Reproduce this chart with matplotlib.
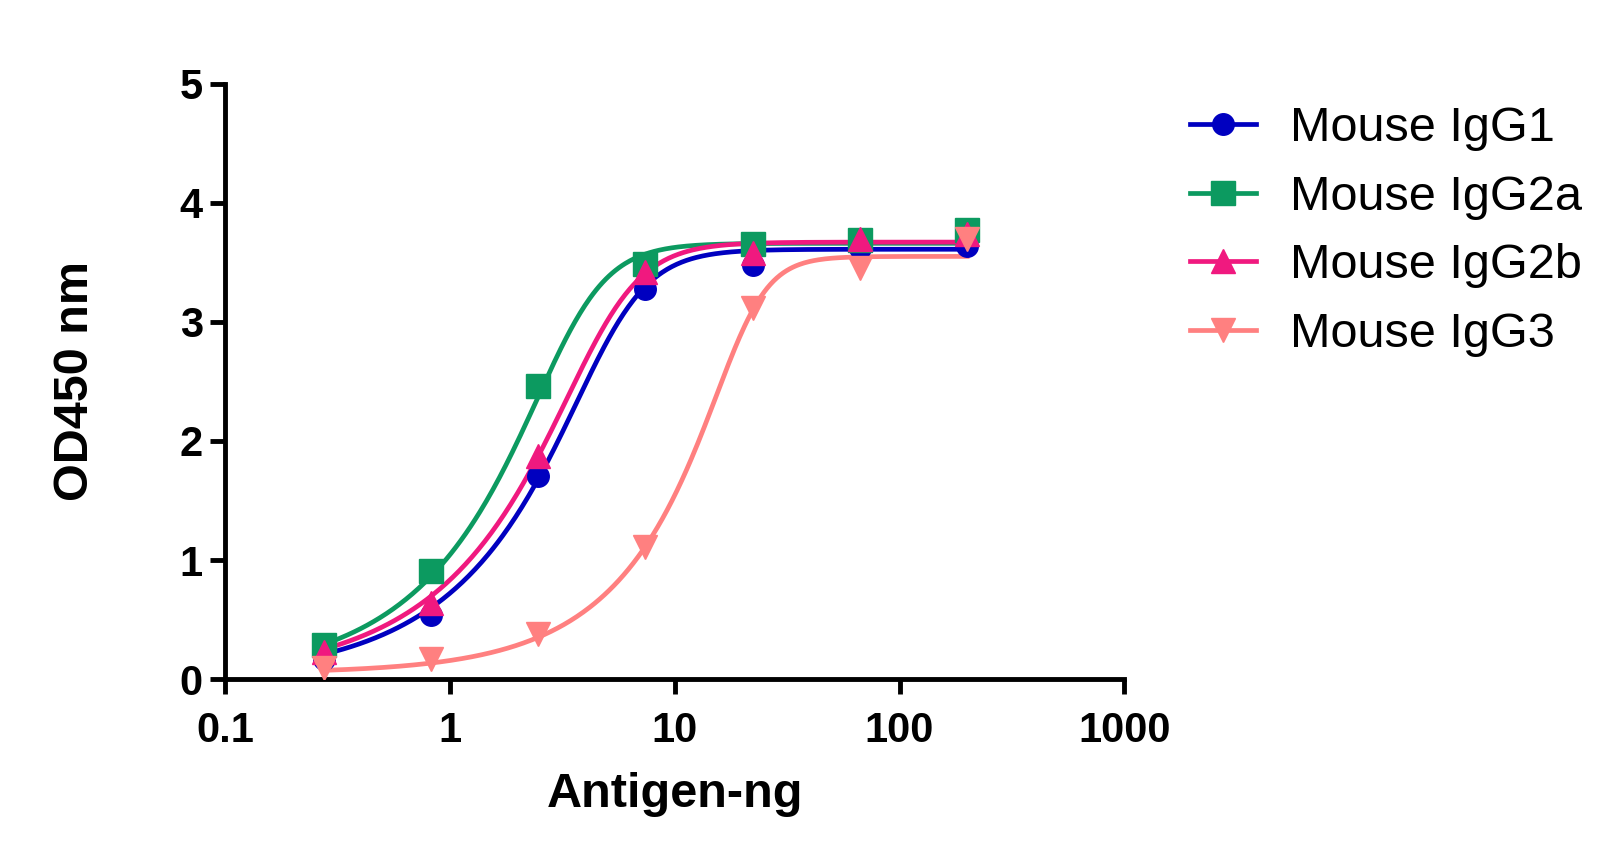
import numpy as np
import matplotlib
matplotlib.use("Agg")
import matplotlib.pyplot as plt

plt.rcParams['font.family'] = ['Liberation Sans', 'DejaVu Sans']

# 3-fold dilution series, ng antigen
antigen_ng = [0.274, 0.823, 2.47, 7.41, 22.2, 66.7, 200.0]

igg1 = [0.17, 0.54, 1.71, 3.28, 3.48, 3.62, 3.64]
igg2a = [0.29, 0.91, 2.46, 3.49, 3.65, 3.69, 3.77]
igg2b = [0.23, 0.64, 1.87, 3.42, 3.58, 3.70, 3.74]
igg3 = [0.09, 0.17, 0.38, 1.11, 3.12, 3.45, 3.70]

# fitted curve params (5PL: bottom, top, EC50, hill, asym)
fit_bottom = [0.0, 0.0, 0.0, 0.05]
fit_top = [3.61, 3.66, 3.67, 3.55]
fit_ec50 = [5.34, 3.53, 4.91, 20.8]
fit_hill = [3.2, 3.3, 3.1, 4.6]
fit_asym = [0.3, 0.3, 0.3, 0.25]

labels = ["Mouse IgG1", "Mouse IgG2a", "Mouse IgG2b", "Mouse IgG3"]
colors = ["#0000C0", "#0C9A60", "#F0197F", "#FF8080"]
markers = ["o", "s", "^", "v"]
msizes = [15.5, 17, 17, 17]

fig = plt.figure(figsize=(16.2, 8.63), dpi=100)
ax = fig.add_axes([0.139, 0.213, 0.555, 0.690])

xs = np.logspace(np.log10(antigen_ng[0]), np.log10(antigen_ng[-1]), 400)
series = [igg1, igg2a, igg2b, igg3]
for i, yv in enumerate(series):
    b, t, ec, h, s = fit_bottom[i], fit_top[i], fit_ec50[i], fit_hill[i], fit_asym[i]
    yfit = b + (t - b) / (1 + (ec / xs) ** h) ** s
    c, m, ms = colors[i], markers[i], msizes[i]
    ax.plot(xs, yfit, color=c, lw=3.4, zorder=2)
    ax.plot(antigen_ng, yv, ls="none", marker=m, ms=ms, color=c, zorder=3)
    ax.plot([], [], color=c, lw=3.4, marker=m, ms=ms, label=labels[i])

ax.set_xscale("log")
ax.set_xlim(0.1, 1000)
ax.set_ylim(0, 5)
ax.set_xticks([0.1, 1, 10, 100, 1000])
ax.set_xticklabels(["0.1", "1", "10", "100", "1000"])
ax.minorticks_off()
ax.set_yticks([0, 1, 2, 3, 4, 5])

for s in ["top", "right"]:
    ax.spines[s].set_visible(False)
for s in ["left", "bottom"]:
    ax.spines[s].set_linewidth(3.5)
ax.tick_params(width=3.5, length=11, labelsize=30)
ax.tick_params(axis="x", pad=12)
ax.tick_params(axis="y", pad=5)
for t in ax.get_xticklabels() + ax.get_yticklabels():
    t.set_fontweight("bold")

ax.set_xlabel("Antigen-ng", fontsize=35, fontweight="bold", labelpad=15)
ax.set_ylabel("OD450 nm", fontsize=35, fontweight="bold", labelpad=59)

ax.legend(loc="upper left", bbox_to_anchor=(1.052, 0.995), frameon=False,
          fontsize=35, handlelength=1.34, handletextpad=0.7, labelspacing=0.485,
          borderaxespad=0)

fig.savefig("out.png", dpi=100)
